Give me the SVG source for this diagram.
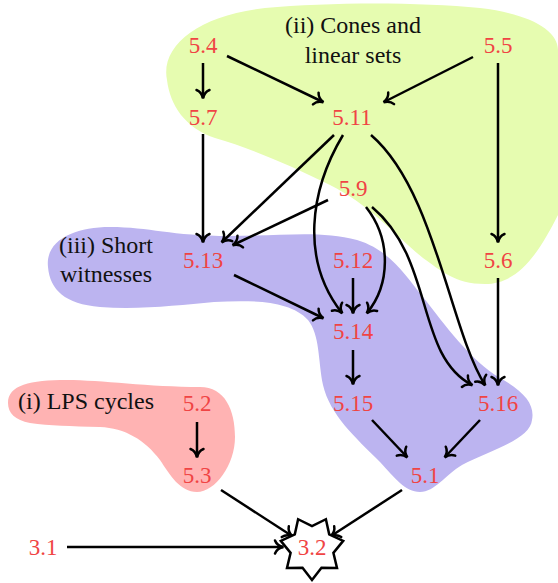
<svg xmlns="http://www.w3.org/2000/svg" width="558" height="583" viewBox="0 0 558 583">
<style>
.n{font-size:23px;fill:#f04444;text-anchor:middle}
.l{font-size:24px;fill:#111;text-anchor:middle}
.e{fill:none;stroke:#000;stroke-width:2.5;marker-end:url(#ah)}
</style>
<defs>
<marker id="ah" markerUnits="userSpaceOnUse" markerWidth="20" markerHeight="20" viewBox="-10 -10 20 20" refX="0" refY="0" orient="auto">
<path d="M -8,-6.5 C -6.5,-2.5 -2.5,-0.6 0.5,0 C -2.5,0.6 -6.5,2.5 -8,6.5" fill="none" stroke="#000" stroke-width="2.5" stroke-linecap="round"/>
</marker>
</defs>
<g id="blobs">
<path id="blob-ii" fill="#e6fcb0" d="M 167,80 C 160,45 200,15 265,8 C 330,2 420,2 480,8 C 530,14 558,30 558,50 L 558,215 C 540,250 520,284 485,284 C 455,284 440,270 423,258 C 395,235 370,205 330,185 C 290,165 250,148 215,138 C 185,128 170,105 167,80 Z"/>
<path id="blob-iii" fill="#bcb4f0" d="M 48,267 C 45,240 75,227 110,227 C 150,227 170,236 230,236 C 280,236 320,230 357,240 C 390,250 405,275 423,297 C 445,325 470,360 500,378 C 525,392 535,405 532,420 C 530,440 490,450 462,465 C 445,475 435,492 420,492 C 405,492 395,478 380,462 C 355,437 330,415 323,385 C 318,360 320,335 308,320 C 290,300 250,300 214,302 C 180,305 140,310 100,307 C 65,304 50,290 48,267 Z"/>
<path id="blob-i" fill="#ffb3b3" d="M 8,403 C 8,385 30,380 67,380 C 100,380 150,387 200,387 C 225,387 235,410 235,437 C 235,465 215,492 197,492 C 180,492 170,475 160,460 C 145,440 125,428 100,427 C 70,426 50,426 30,423 C 15,420 8,413 8,403 Z"/>
</g>
<g id="labels" font-family="Liberation Serif, serif">
<text class="l" x="353" y="33">(ii) Cones and</text>
<text class="l" x="353" y="63">linear sets</text>
<text class="l" x="106" y="253">(iii) Short</text>
<text class="l" x="106" y="282">witnesses</text>
<text class="l" x="86" y="409">(i) LPS cycles</text>
</g>
<g id="connectors">
<path class="e" d="M203,63 L203,98"/>
<path class="e" d="M227,56 L323,102"/>
<path class="e" d="M473,57 L384,102"/>
<path class="e" d="M498,63 L498,242"/>
<path class="e" d="M203,134 L203,242"/>
<path class="e" d="M334,135 L222,242"/>
<path class="e" d="M328,200 L233,245"/>
<path class="e" d="M343,135 C 310,190 300,260 342,313"/>
<path class="e" d="M353,278 L353,313"/>
<path class="e" d="M366,207 C 392,240 390,285 367,313"/>
<path class="e" d="M372,207 C 435,260 415,355 472,385"/>
<path class="e" d="M371,135 C 435,190 450,330 485,385"/>
<path class="e" d="M498,278 L498,385"/>
<path class="e" d="M234,275 L323,318"/>
<path class="e" d="M353,350 L353,384"/>
<path class="e" d="M372,420 L407,457"/>
<path class="e" d="M480,420 L445,457"/>
<path class="e" d="M197,422 L197,457"/>
<path class="e" d="M221,490 L292,536"/>
<path class="e" d="M402,490 L331,536"/>
<path class="e" d="M67,547 L283,547"/>
</g>
<g id="nodes" font-family="Liberation Serif, serif">
<g id="n5-4"><text class="n" x="203" y="53">5.4</text></g>
<g id="n5-5"><text class="n" x="498" y="53">5.5</text></g>
<g id="n5-7"><text class="n" x="203" y="125">5.7</text></g>
<g id="n5-11"><text class="n" x="352" y="125">5.11</text></g>
<g id="n5-9"><text class="n" x="353" y="196">5.9</text></g>
<g id="n5-13"><text class="n" x="203" y="268">5.13</text></g>
<g id="n5-12"><text class="n" x="353" y="268">5.12</text></g>
<g id="n5-6"><text class="n" x="498" y="268">5.6</text></g>
<g id="n5-14"><text class="n" x="353" y="339">5.14</text></g>
<g id="n5-15"><text class="n" x="353" y="411">5.15</text></g>
<g id="n5-16"><text class="n" x="498" y="411">5.16</text></g>
<g id="n5-2"><text class="n" x="197" y="411">5.2</text></g>
<g id="n5-3"><text class="n" x="197" y="483">5.3</text></g>
<g id="n5-1"><text class="n" x="425" y="483">5.1</text></g>
<g id="n3-1"><text class="n" x="43" y="555">3.1</text></g>
<g id="n3-2">
<polygon points="312,580 302.5,567.8 287,568 290.6,552.9 280.8,540.9 294.8,534.3 298.1,519.2 312,526 325.9,519.2 329.2,534.3 343.2,540.9 333.4,552.9 337,568 321.5,567.8" fill="#fff" stroke="#000" stroke-width="2.5" stroke-linejoin="miter"/>
<text class="n" x="312" y="555">3.2</text>
</g>
</g>
</svg>
